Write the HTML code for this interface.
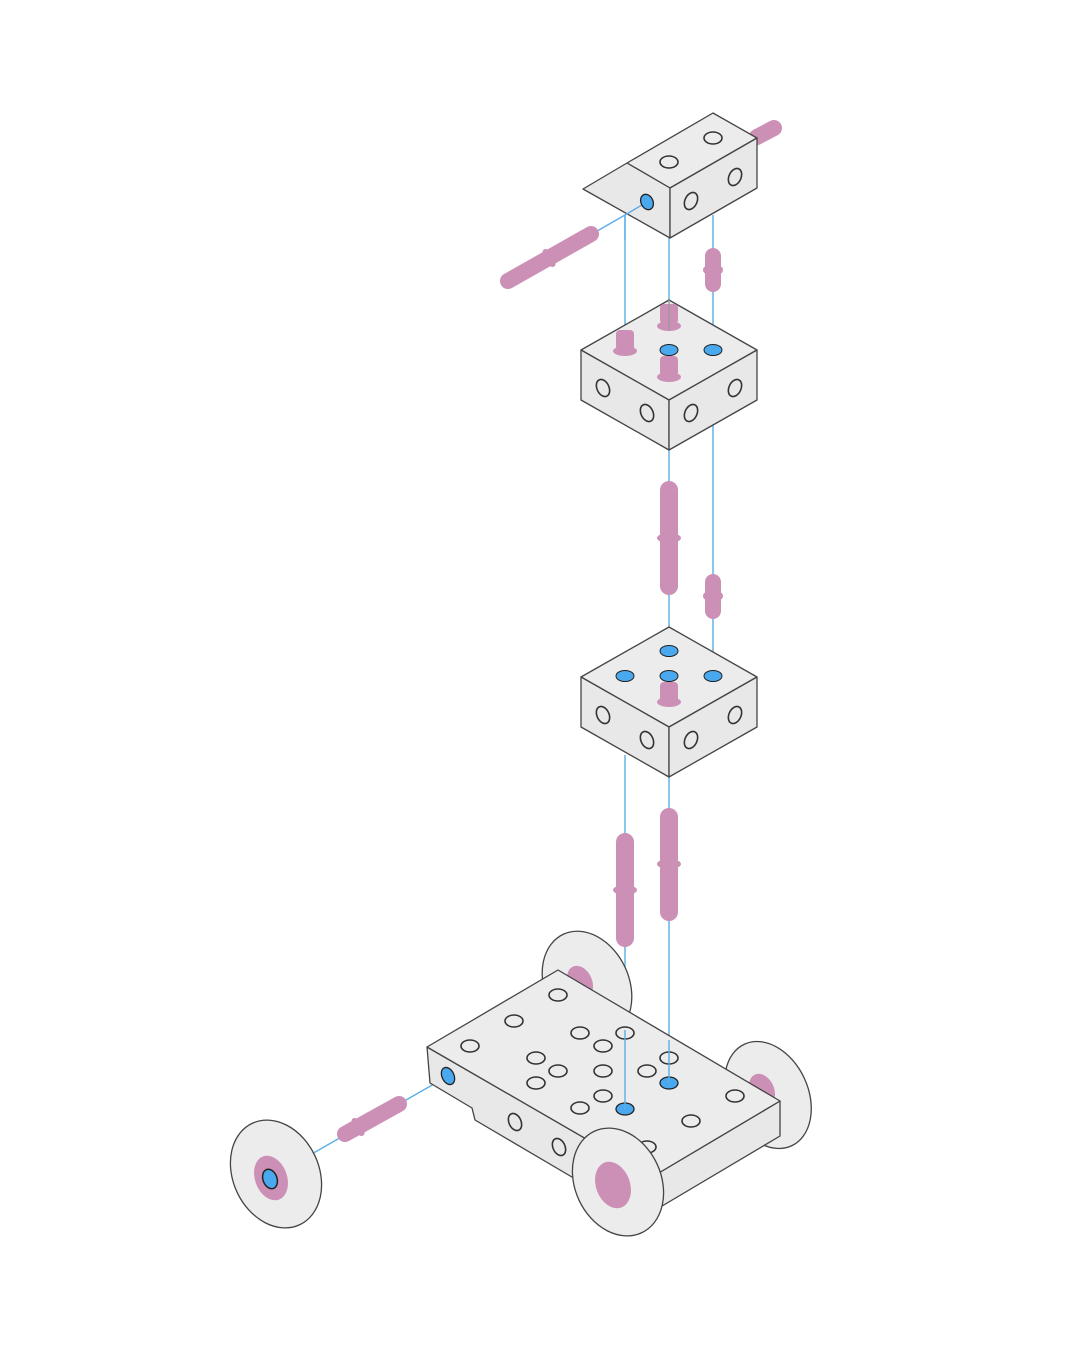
<!DOCTYPE html>
<html><head><meta charset="utf-8"><style>html,body{margin:0;padding:0;background:#fff}svg{display:block}</style></head>
<body>
<svg width="1080" height="1350" viewBox="0 0 1080 1350" xmlns="http://www.w3.org/2000/svg">
<defs>
<g id="cube" stroke="#444" stroke-width="1.3" stroke-linejoin="round">
  <polygon points="0,0 88,50 0,100 -88,50" fill="#ececec"/>
  <polygon points="-88,50 0,100 0,150 -88,100" fill="#e8e8e8"/>
  <polygon points="88,50 0,100 0,150 88,100" fill="#e8e8e8"/>
  <g fill="none" stroke="#333" stroke-width="1.6">
    <ellipse cx="-66" cy="88" rx="6" ry="9" transform="rotate(-25 -66 88)"/>
    <ellipse cx="-22" cy="113" rx="6" ry="9" transform="rotate(-25 -22 113)"/>
    <ellipse cx="22" cy="113" rx="6" ry="9" transform="rotate(25 22 113)"/>
    <ellipse cx="66" cy="88" rx="6" ry="9" transform="rotate(25 66 88)"/>
  </g>
</g>
</defs>

<!-- blue guide lines -->
<g stroke="#5aaee8" stroke-width="1.4" fill="none">
  <line x1="625" y1="215" x2="625" y2="340"/>
  <line x1="669" y1="238" x2="669" y2="627"/>
  <line x1="713" y1="215" x2="713" y2="677"/>
  <line x1="625" y1="755" x2="625" y2="1109"/>
  <line x1="669" y1="777" x2="669" y2="1083"/>
  <line x1="310" y1="1155" x2="448" y2="1076"/>
</g>

<!-- top-right rod -->
<line x1="757" y1="137" x2="774" y2="128" stroke="#cc8fb5" stroke-width="16" stroke-linecap="round"/>

<!-- top block -->
<g stroke="#444" stroke-width="1.3" stroke-linejoin="round">
  <polygon points="713,113 757,138 670,188 627,163" fill="#ececec"/>
  <polygon points="627,163 670,188 670,238 583,189" fill="#e8e8e8"/>
  <polygon points="757,138 670,188 670,238 757,188" fill="#e8e8e8"/>
  <g fill="none" stroke="#333" stroke-width="1.6">
    <ellipse cx="669" cy="162" rx="9" ry="6"/>
    <ellipse cx="713" cy="138" rx="9" ry="6"/>
    <ellipse cx="691" cy="201" rx="6" ry="9" transform="rotate(25 691 201)"/>
    <ellipse cx="735" cy="177" rx="6" ry="9" transform="rotate(25 735 177)"/>
  </g>
</g>
<g stroke="#5aaee8" stroke-width="1.4" fill="none">
  <polyline points="647,202 625,215 625,240"/>
  <line x1="625" y1="215" x2="592" y2="234"/>
</g>
<ellipse cx="647" cy="202" rx="6" ry="8" fill="#4aa8ee" stroke="#222" stroke-width="1.3" transform="rotate(-25 647 202)"/>
<!-- left rod -->
<line x1="508" y1="281" x2="591" y2="234" stroke="#cc8fb5" stroke-width="16" stroke-linecap="round"/>
<ellipse cx="549" cy="258" rx="5" ry="10" fill="#cc8fb5" transform="rotate(-30 549 258)"/>

<!-- peg between top and cube2 -->
<line x1="713" y1="256" x2="713" y2="284" stroke="#cc8fb5" stroke-width="16" stroke-linecap="round"/>
<rect x="703" y="266" width="20" height="8" rx="4" fill="#cc8fb5"/>

<!-- cube 2 -->
<use href="#cube" x="669" y="300"/>
<rect x="660" y="304" width="18" height="20" rx="4" fill="#cc8fb5"/>
<ellipse cx="669" cy="326" rx="12" ry="5" fill="#cc8fb5"/>
<line x1="669" y1="300" x2="669" y2="330" stroke="#999" stroke-width="1.4"/>
<rect x="616" y="330" width="18" height="20" rx="4" fill="#cc8fb5"/>
<ellipse cx="625" cy="351" rx="12" ry="5" fill="#cc8fb5"/>
<ellipse cx="669" cy="350" rx="9" ry="5.5" fill="#4aa8ee" stroke="#222"/>
<ellipse cx="713" cy="350" rx="9" ry="5.5" fill="#4aa8ee" stroke="#222"/>
<rect x="660" y="356" width="18" height="20" rx="4" fill="#cc8fb5"/>
<ellipse cx="669" cy="377" rx="12" ry="5" fill="#cc8fb5"/>

<!-- rods between cube2 and cube3 -->
<line x1="669" y1="490" x2="669" y2="586" stroke="#cc8fb5" stroke-width="18" stroke-linecap="round"/>
<ellipse cx="669" cy="538" rx="12" ry="5" fill="#cc8fb5"/>
<line x1="713" y1="582" x2="713" y2="611" stroke="#cc8fb5" stroke-width="16" stroke-linecap="round"/>
<rect x="703" y="592" width="20" height="8" rx="4" fill="#cc8fb5"/>

<!-- cube 3 -->
<use href="#cube" x="669" y="627"/>
<ellipse cx="669" cy="651" rx="9" ry="5.5" fill="#4aa8ee" stroke="#222"/>
<ellipse cx="625" cy="676" rx="9" ry="5.5" fill="#4aa8ee" stroke="#222"/>
<ellipse cx="669" cy="676" rx="9" ry="5.5" fill="#4aa8ee" stroke="#222"/>
<ellipse cx="713" cy="676" rx="9" ry="5.5" fill="#4aa8ee" stroke="#222"/>
<rect x="660" y="682" width="18" height="20" rx="4" fill="#cc8fb5"/>
<ellipse cx="669" cy="702" rx="12" ry="5" fill="#cc8fb5"/>

<!-- rods to base -->
<line x1="625" y1="842" x2="625" y2="938" stroke="#cc8fb5" stroke-width="18" stroke-linecap="round"/>
<ellipse cx="625" cy="890" rx="12" ry="5" fill="#cc8fb5"/>
<line x1="669" y1="817" x2="669" y2="912" stroke="#cc8fb5" stroke-width="18" stroke-linecap="round"/>
<ellipse cx="669" cy="864" rx="12" ry="5" fill="#cc8fb5"/>

<!-- back wheels -->
<g stroke="#444" stroke-width="1.3">
  <ellipse cx="587" cy="985" rx="42" ry="56" fill="#ececec" transform="rotate(-25 587 985)"/>
  <ellipse cx="768" cy="1095" rx="40" ry="56" fill="#ececec" transform="rotate(-25 768 1095)"/>
</g>
<ellipse cx="580" cy="982" rx="12" ry="17" fill="#cc8fb5" transform="rotate(-25 580 982)"/>
<ellipse cx="762" cy="1090" rx="12" ry="17" fill="#cc8fb5" transform="rotate(-25 762 1090)"/>

<!-- base -->
<g stroke="#444" stroke-width="1.3" stroke-linejoin="round">
  <polygon points="780,1101 780,1136 652,1212 652,1177" fill="#e8e8e8"/>
  <path d="M427,1047 L652,1177 L652,1212 L577,1180 L475,1120 L472,1108 L430,1083 Z" fill="#e8e8e8"/>
  <polygon points="558,970 780,1101 652,1177 427,1047" fill="#ececec"/>
  <g fill="none" stroke="#333" stroke-width="1.6">
    <ellipse cx="558" cy="995" rx="9" ry="6"/>
    <ellipse cx="514" cy="1021" rx="9" ry="6"/>
    <ellipse cx="470" cy="1046" rx="9" ry="6"/>
    <ellipse cx="580" cy="1033" rx="9" ry="6"/>
    <ellipse cx="625" cy="1033" rx="9" ry="6"/>
    <ellipse cx="603" cy="1046" rx="9" ry="6"/>
    <ellipse cx="536" cy="1058" rx="9" ry="6"/>
    <ellipse cx="558" cy="1071" rx="9" ry="6"/>
    <ellipse cx="603" cy="1071" rx="9" ry="6"/>
    <ellipse cx="647" cy="1071" rx="9" ry="6"/>
    <ellipse cx="669" cy="1058" rx="9" ry="6"/>
    <ellipse cx="536" cy="1083" rx="9" ry="6"/>
    <ellipse cx="580" cy="1108" rx="9" ry="6"/>
    <ellipse cx="603" cy="1096" rx="9" ry="6"/>
    <ellipse cx="691" cy="1121" rx="9" ry="6"/>
    <ellipse cx="735" cy="1096" rx="9" ry="6"/>
    <ellipse cx="647" cy="1147" rx="9" ry="6"/>
    <ellipse cx="515" cy="1122" rx="6" ry="9" transform="rotate(-25 515 1122)"/>
    <ellipse cx="559" cy="1147" rx="6" ry="9" transform="rotate(-25 559 1147)"/>
  </g>
  <ellipse cx="625" cy="1109" rx="9" ry="6" fill="#4aa8ee" stroke="#222"/>
  <ellipse cx="669" cy="1083" rx="9" ry="6" fill="#4aa8ee" stroke="#222"/>
  <ellipse cx="448" cy="1076" rx="6" ry="9" fill="#4aa8ee" stroke="#222" transform="rotate(-25 448 1076)"/>
</g>
<g stroke="#5aaee8" stroke-width="1.4">
  <line x1="625" y1="1030" x2="625" y2="1109"/>
  <line x1="669" y1="1040" x2="669" y2="1083"/>
</g>

<!-- front wheel -->
<ellipse cx="618" cy="1182" rx="43" ry="56" fill="#ececec" stroke="#444" stroke-width="1.3" transform="rotate(-25 618 1182)"/>
<ellipse cx="613" cy="1185" rx="17" ry="24" fill="#cc8fb5" transform="rotate(-20 613 1185)"/>

<!-- left axle & wheel -->
<line x1="345" y1="1134" x2="399" y2="1104" stroke="#cc8fb5" stroke-width="16" stroke-linecap="round"/>
<ellipse cx="358" cy="1127" rx="5" ry="10" fill="#cc8fb5" transform="rotate(-30 358 1127)"/>
<ellipse cx="276" cy="1174" rx="43" ry="56" fill="#ececec" stroke="#444" stroke-width="1.3" transform="rotate(-25 276 1174)"/>
<ellipse cx="271" cy="1178" rx="16" ry="23" fill="#cc8fb5" transform="rotate(-20 271 1178)"/>
<ellipse cx="270" cy="1179" rx="7" ry="10" fill="#4aa8ee" stroke="#222" stroke-width="1.5" transform="rotate(-20 270 1179)"/>
</svg>
</body></html>
